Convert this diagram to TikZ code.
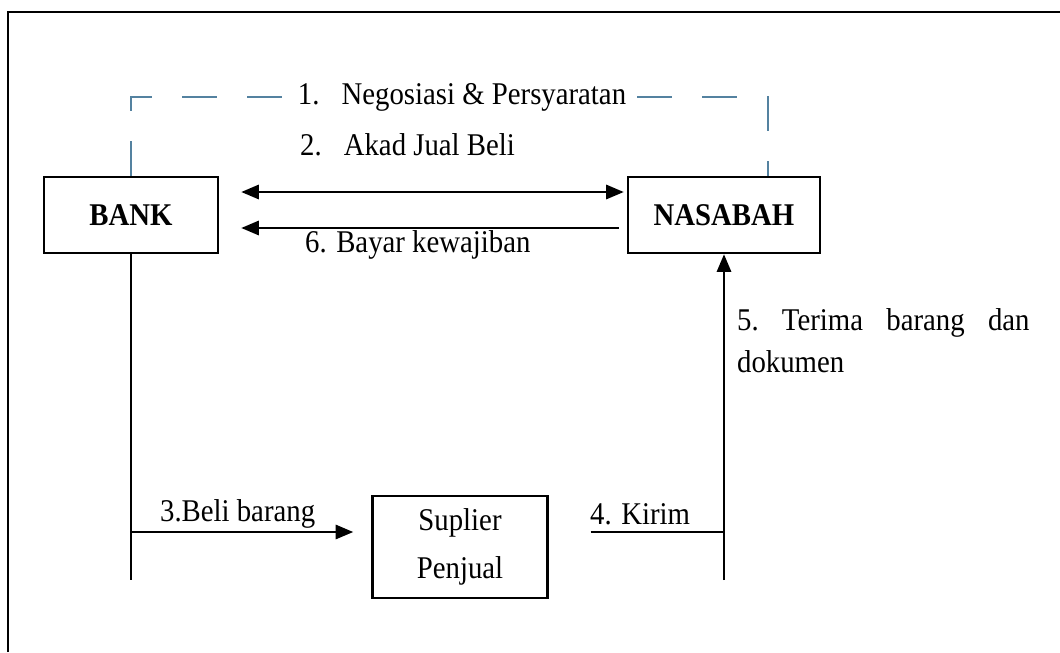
\documentclass[tikz,border=0pt]{standalone}
\usepackage{fontspec}
\setmainfont{Liberation Serif}[FakeStretch=0.91]
\usetikzlibrary{arrows.meta}
\definecolor{dashblue}{RGB}{84,130,160}
\tikzset{
  box/.style={draw, line width=1.4pt, minimum width=3.48cm, minimum height=1.52cm, inner sep=0pt},
  flow/.style={line width=1.5pt},
  arr/.style={-{Triangle[length=10pt,width=8pt]}},
  negline/.style={dashblue, line width=1.3pt, dash pattern=on 0.7cm off 0.6cm},
  lbl/.style={font=\fontsize{18}{24}\selectfont, inner sep=1pt},
}
\begin{document}
\begin{tikzpicture}[x=0.02cm, y=-0.02cm]
      \useasboundingbox (0,0) rectangle (1060,652);
      \draw[line width=1.6pt] (8,652) -- (8,12) -- (1060,12);

      \node[box, font=\fontsize{18}{24}\selectfont\bfseries] (bank) at (131,215) {BANK};
      \node[box, minimum width=3.84cm, font=\fontsize{18}{24}\selectfont\bfseries] (nasabah) at (724,215) {NASABAH};
      \node[box, minimum width=3.5cm, minimum height=2.04cm, align=center, font=\fontsize{18}{27}\selectfont] (suplier) at (460,547) {Suplier\\Penjual};

      \coordinate (top) at (462,97);
      \coordinate (mid) at (0,532);
      \coordinate (bot) at (0,580);
      \coordinate (nasR) at ([xshift=0.88cm]nasabah.north);

      % negosiasi
      \draw[negline] (bank.north) -- (bank.north |- top) -- (nasR |- top) -- (nasR);
      \node[lbl, fill=white, inner xsep=5pt] (neg) at (top) {1.\hspace{0.7em}Negosiasi \& Persyaratan};

      % akad & bayar
      \draw[flow, {Triangle[length=10pt,width=8pt]}-{Triangle[length=10pt,width=8pt]}] ([xshift=0.44cm,yshift=0.46cm]bank.east) -- ([xshift=-0.06cm,yshift=0.46cm]nasabah.west);
      \draw[flow, arr] ([xshift=-0.16cm,yshift=-0.26cm]nasabah.west) -- ([xshift=0.44cm,yshift=-0.26cm]bank.east);
      \node[lbl, anchor=west] (akad) at (298,145) {2.\hspace{0.7em}Akad Jual Beli};
      \node[lbl, anchor=west] (bayar) at (303,245) {6. Bayar kewajiban};

      % beli & kirim
      \draw[flow] (bank.south) -- (bank.south |- bot);
      \draw[flow, arr] (bank.south |- mid) -- ([xshift=-0.36cm]suplier.west |- mid);
      \draw[flow] ([xshift=0.84cm]suplier.east |- mid) -- (nasabah.south |- mid);
      \draw[flow, arr] (nasabah.south |- bot) -- (nasabah.south);
      \node[lbl, anchor=west] (beli) at (158,514) {3.Beli barang};
      \node[lbl, anchor=west] (kirim) at (588,514) {4. Kirim};
      \node[lbl, anchor=west, align=left] (terima) at (735,341) {\makebox[5.85cm][s]{5.\ Terima barang dan}\\dokumen};
\end{tikzpicture}
\end{document}
